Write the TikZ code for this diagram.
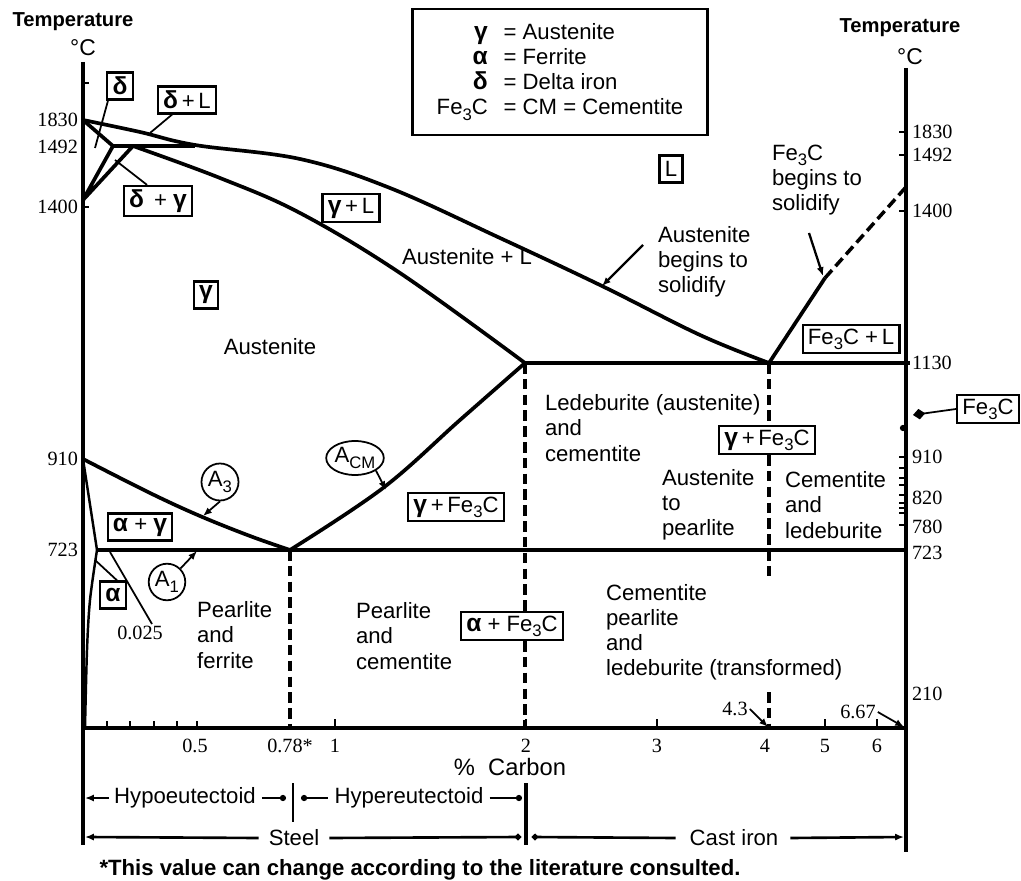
\documentclass[tikz,border=0pt]{standalone}
\usepackage{fontspec}
\setmainfont{Liberation Sans}
\newfontfamily\numfont{Liberation Serif}
\usetikzlibrary{shapes.geometric,arrows.meta,positioning,calc}

\newcommand\lowsub[1]{\raisebox{-0.45ex}{\fontsize{9.5}{10}\selectfont #1}}
\newcommand\fec{Fe\lowsub{3}C}
\newcommand\sym[1]{{\bfseries\fontsize{14}{14}\selectfont #1}}

\begin{document}
\begin{tikzpicture}[x=0.02cm, y=-0.02cm,
    every node/.style={font=\fontsize{12.6}{14.3}\selectfont, inner sep=1pt},
    axis/.style={line width=2.7pt},
    phase/.style={line width=2.1pt, line join=round},
    thinphase/.style={line width=1.4pt},
    dashline/.style={line width=2pt, dash pattern=on 6pt off 3pt},
    phasebox/.style={draw, line width=1.3pt, inner xsep=3pt, inner ysep=2pt, minimum height=0.54cm},
    leader/.style={line width=1pt},
    tnum/.style={font=\numfont\fontsize{11.5}{13}\selectfont},
    region/.style={align=left, anchor=west},
    ring/.style={draw, line width=1pt, inner sep=1pt},
    >={Latex[length=5pt,width=4pt]}]
  \useasboundingbox (0,0) rectangle (1021,881);

  % axes
  \coordinate (ltop) at (83,62);
  \coordinate (lbot) at (83,845);
  \coordinate (rtop) at (906,68);
  \coordinate (rbot) at (906,852);
  \coordinate (orig) at (83,728);
  \coordinate (cend) at (906,728);
  \draw[axis] (ltop) -- (lbot);
  \draw[axis] (rtop) -- (rbot);
  \draw[axis] (orig) -- (cend);

  \node[font=\bfseries\fontsize{11.5}{13}\selectfont] (templ) at (73,22) {Temperature};
  \node[font=\fontsize{13}{14}\selectfont] (degl) at (83,48) {°C};
  \node[font=\bfseries\fontsize{11.5}{13}\selectfont] (tempr) at (900,28) {Temperature};
  \node[font=\fontsize{13}{14}\selectfont] (degr) at (910,57) {°C};

  % temperature scales
  \foreach \y/\t in {120/1830,147/1492,207/1400,459/910,550/723}
    \node[tnum, anchor=east] (lt\t) at (80,\y) {\t};
  \foreach \y/\t in {132/1830,155/1492,211/1400,363/1130,457/910,498/820,527/780,553/723,694/210}
    \node[tnum, anchor=west] (rt\t) at (910,\y) {\t};
  \foreach \y in {132,155,211,457,468,478,485,495,503,508,513,525}
    \draw[line width=1.1pt] (906,\y) -- (899,\y);
  \foreach \y in {83,207}
    \draw[line width=1pt] (83,\y) -- (89,\y);

  % carbon scale
  \foreach \x in {107,130,154,177,197}
    \draw[line width=1.1pt] (\x,728) -- (\x,721);
  \foreach \x in {335,526,657,825,877}
    \draw[line width=1.1pt] (\x,728) -- (\x,719);
  \foreach \x/\t in {195/0.5,290/0.78*,335/1,526/2,657/3,765/4,825/5,877/6}
    \node[tnum] (xl\x) at (\x,746) {\t};
  \node[font=\fontsize{13.5}{14}\selectfont] (carb) at (510,767) {\%\ \ Carbon};

  % legend
  \node[draw, line width=1.3pt, minimum width=5.9cm, minimum height=2.52cm] (legend) at (560,72) {%
    \begin{tabular}{@{}r@{\hspace{9pt}}l@{}}
      \sym{γ} & = Austenite\\
      \sym{α} & = Ferrite\\
      \sym{δ} & = Delta iron\\
      \fec & = CM = Cementite
    \end{tabular}};

  % delta corner
  \coordinate (m1830) at (83,120);
  \coordinate (pA) at (113,146);
  \coordinate (pB) at (133,146);
  \coordinate (pC) at (195,146);
  \coordinate (m1400) at (83,200);
  \draw[phase] (m1830) -- (pA) -- (m1400) -- (pB);
  \draw[phase] (pA) -- (pC);

  % liquidus and solidus
  \coordinate (eut) at (769,363);
  \coordinate (e2) at (525,363);
  \coordinate (fsol) at (825,278);
  \coordinate (fmelt) at (906,187);
  \draw[phase] plot[smooth, tension=0.6] coordinates {(83,120) (140,132) (195,145) (300,159) (390,188) (500,238) (602,286) (700,335) (769,363)};
  \draw[phase] plot[smooth, tension=0.6] coordinates {(133,146) (220,178) (300,213) (400,273) (525,363)};
  \draw[phase] (e2) -- (rt1130.west);
  \draw[phase] (eut) -- (fsol);
  \draw[dashline] (fsol) -- (fmelt);

  % eutectoid part
  \coordinate (eutd) at (290,550);
  \coordinate (a910) at (83,459);
  \coordinate (a723) at (97,550);
  \draw[phase] (a723) -- (906,550);
  \draw[phase] plot[smooth, tension=0.6] coordinates {(83,459) (150,493) (200,516) (250,536) (290,550)};
  \draw[phase] plot[smooth, tension=0.6] coordinates {(290,550) (383,488) (460,420) (525,363)};
  \draw[thinphase] (a910) -- (a723);
  \draw[thinphase] plot[smooth] coordinates {(97,550) (90,600) (87,650) (85,728)};

  % boxed phase names
  \node[phasebox] (bd) at (120,86) {\sym{δ}};
  \node[phasebox] (bdl) at (187,100) {\sym{δ}\,+\,L};
  \node[phasebox] (bdg) at (158,201) {\sym{δ}\ \,+\ \sym{γ}};
  \node[phasebox] (bL) at (671,169) {L};
  \node[phasebox] (bgl) at (351,208) {\sym{γ}\,+\,L};
  \node[phasebox] (bg) at (206,295) {\sym{γ}};
  \node[phasebox] (bfl) at (851,339) {\fec\ +\,L};
  \node[phasebox] (bfe) at (988,409) {\fec};
  \node[phasebox] (bgf2) at (767,440) {\sym{γ}\,+\,\fec};
  \node[phasebox] (bgf1) at (456,507) {\sym{γ}\,+\,\fec};
  \node[phasebox] (bag) at (140,527) {\sym{α}\ +\ \sym{γ}};
  \node[phasebox] (ba) at (113,595) {\sym{α}};
  \node[phasebox] (baf) at (512,626) {\sym{α}\ +\ \fec};

  % dashed verticals
  \draw[dashline] (eutd) -- (290,728);
  \draw[dashline] (e2) -- (baf.north -| e2);
  \draw[dashline] (baf.south -| e2) -- (525,728);
  \draw[dashline] (eut) -- (bgf2.north -| eut);
  \draw[dashline] (bgf2.south -| eut) -- (769,578);
  \draw[dashline] (769,692) -- (769,728);

  % region texts
  \node (aus) at (270,347) {Austenite};
  \node (ausl) at (467,257) {Austenite + L};
  \node[region] (led) at (543,428) {Ledeburite (austenite)\\and\\cementite};
  \node[region] (atp) at (660,505) {Austenite\\to\\pearlite};
  \node[region] (cal) at (783,505) {Cementite\\and\\ledeburite};
  \node[region] (pf) at (195,635) {Pearlite\\and\\ferrite};
  \node[region] (pc) at (354,636) {Pearlite\\and\\cementite};
  \node[region] (cpl) at (604,632) {Cementite\\pearlite\\and\\ledeburite (transformed)};
  \node[region] (abs) at (656,262) {Austenite\\begins to\\solidify};
  \node[region] (fbs) at (770,180) {\fec\\begins to\\solidify};

  % transformation lines
  \node[ring, circle, minimum size=0.74cm] (nA3) at (220,482) {A\lowsub{3}};
  \node[ring, circle, minimum size=0.7cm] (nA1) at (167,582) {A\lowsub{1}};
  \node[ring, ellipse, minimum width=1cm, minimum height=0.68cm, inner sep=0pt] (nAcm) at (355,458) {A\lowsub{CM}};

  % leaders
  \coordinate (dpt) at (95,148);
  \coordinate (dlpt) at (150,133);
  \coordinate (dgpt) at (115,160);
  \coordinate (apt) at (95,560);
  \coordinate (cpt) at (110,552);
  \coordinate (a3pt) at (203,516);
  \coordinate (a1pt) at (197,551);
  \coordinate (acmpt) at (386,490);
  \coordinate (liqpt) at (602,286);
  \coordinate (abstail) at (643,245);
  \coordinate (fecpt) at (823,276);
  \coordinate (fectail) at (809,233);
  \coordinate (cempt) at (913,415);
  \draw[leader] ($(bd.south)+(-12,0)$) -- (dpt);
  \draw[leader] ($(bdl.south)+(-15,0)$) -- (dlpt);
  \draw[leader] ($(bdg.north)+(-11,0)$) -- (dgpt);
  \draw[leader] ($(ba.north)+(4,0)$) -- (apt);
  \node[tnum] (n0025) at (140,633) {0.025};
  \draw[leader] ($(n0025.north)+(12,0)$) -- (cpt);
  \draw[leader,->] (nA3.south) -- (a3pt);
  \draw[leader,->] (nA1.north east) -- (a1pt);
  \draw[leader,->] (nAcm.south east) -- (acmpt);
  \draw[line width=1.3pt,->] (abstail) -- (liqpt);
  \draw[line width=1.3pt,->] (fectail) -- (fecpt);
  \draw[leader,-{Diamond[length=7pt,width=6pt]}] (bfe.west) -- (cempt);
  \fill (903,428) circle (1.8pt);
  \node[tnum] (n43) at (735,709) {4.3};
  \node[tnum] (n667) at (858,712) {6.67};
  \draw[leader,->] (n43.east) -- (768,727);
  \draw[leader,->] (n667.east) -- (904,727);

  % steel and cast iron ranges
  \node (hypo) at (185,798) {Hypoeutectoid};
  \node (hyper) at (409,798) {Hypereutectoid};
  \node (steel) at (294,838) {Steel};
  \node (cast) at (734,838) {Cast iron};
  \coordinate (lhypo) at (85,798);
  \coordinate (rhypo) at (286,798);
  \coordinate (lhyper) at (301,798);
  \coordinate (rhyper) at (522,798);
  \coordinate (lsteel) at (85,837);
  \coordinate (rsteel) at (521,837);
  \coordinate (lcast) at (532,837);
  \coordinate (rcast) at (904,837);
  \draw[leader,->] ($(hypo.west)+(-3,0)$) -- (lhypo);
  \draw[leader,-{Circle[length=3.5pt]}] ($(hypo.east)+(4,0)$) -- (rhypo);
  \draw[leader,{Circle[length=3.5pt]}-] (lhyper) -- ($(hyper.west)+(-4,0)$);
  \draw[leader,-{Circle[length=3.5pt]}] ($(hyper.east)+(4,0)$) -- (rhyper);
  \draw[line width=1.4pt] (293,783) -- (293,822);
  \draw[line width=1.8pt] (526,783) -- (526,845);
  \draw[line width=1.5pt,->] ($(steel.west)+(-8,0)$) -- (lsteel);
  \draw[line width=1.5pt,-{Circle[length=3.5pt]}] ($(steel.east)+(8,0)$) -- (rsteel);
  \draw[line width=1.5pt,{Circle[length=3.5pt]}-] (lcast) -- ($(cast.west)+(-12,0)$);
  \draw[line width=1.5pt,->] ($(cast.east)+(10,0)$) -- (rcast);

  \node[font=\bfseries\fontsize{12.6}{14}\selectfont] (foot) at (420,870) {*This value can change according to the literature consulted.};
\end{tikzpicture}
\end{document}
